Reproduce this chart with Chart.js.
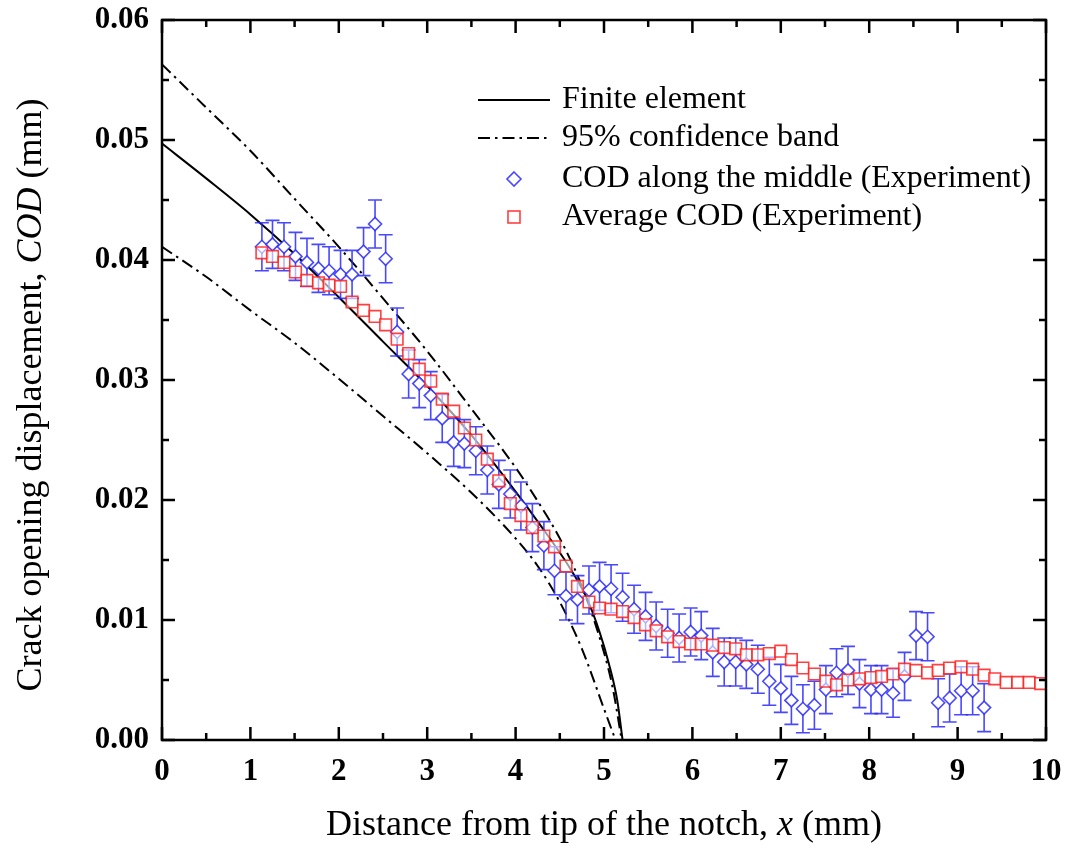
<!DOCTYPE html>
<html>
<head>
<meta charset="utf-8">
<script src="https://cdn.jsdelivr.net/npm/chart.js@4.4.0/dist/chart.umd.min.js"></script>
<style>
  html, body { margin: 0; padding: 0; background: #fff; }
  #wrap { width: 1069px; height: 846px; position: relative; }
</style>
</head>
<body>
<div id="wrap"><canvas id="codChart"></canvas></div>
<script>
// distance from notch tip (mm), one per measured point
const positions = [
  1.13, 1.25, 1.38, 1.51, 1.64, 1.77, 1.89, 2.02, 2.15, 2.28,
  2.41, 2.53, 2.66, 2.79, 2.91, 3.04, 3.17, 3.30, 3.42, 3.55,
  3.68, 3.81, 3.94, 4.06, 4.19, 4.32, 4.44, 4.57, 4.70, 4.83,
  4.95, 5.08, 5.21, 5.34, 5.47, 5.59, 5.72, 5.85, 5.98, 6.10,
  6.23, 6.36, 6.49, 6.61, 6.74, 6.87, 7.00, 7.12, 7.25, 7.38,
  7.51, 7.63, 7.76, 7.89, 8.02, 8.14, 8.27, 8.40, 8.53, 8.66,
  8.78, 8.91, 9.04, 9.17, 9.30, 9.42, 9.55, 9.68, 9.81, 9.94
];
const codMiddle = [
  0.0411, 0.0413, 0.0411, 0.0403, 0.0398, 0.0393, 0.0391, 0.0388, 0.0388, 0.0407,
  0.0430, 0.0401, 0.0340, 0.0305, 0.0297, 0.0287, 0.0268, 0.0248, 0.0247, 0.0241,
  0.0225, 0.0213, 0.0205, 0.0195, 0.0177, 0.0162, 0.0141, 0.0120, 0.0117, 0.0125,
  0.0128, 0.0126, 0.0119, 0.0109, 0.0103, 0.0095, 0.0089, 0.0085, 0.0090, 0.0087,
  0.0073, 0.0065, 0.0065, 0.0063, 0.0059, 0.0049, 0.0043, 0.0033, 0.0026, 0.0029,
  0.0042, 0.0056, 0.0058, 0.0047, 0.0042, 0.0042, 0.0039, 0.0053, 0.0087, 0.0086,
  0.0031, 0.0035, 0.0041, 0.0041, 0.0027
];
const codErr = 0.002;
const codAverage = [
  0.0406, 0.0403, 0.0398, 0.0390, 0.0383, 0.0381, 0.0379, 0.0378, 0.0365, 0.0358,
  0.0353, 0.0346, 0.0334, 0.0322, 0.0309, 0.0299, 0.0284, 0.0274, 0.0260, 0.0250,
  0.0234, 0.0216, 0.0197, 0.0187, 0.0177, 0.0170, 0.0161, 0.0145, 0.0128, 0.0115,
  0.0110, 0.0109, 0.0107, 0.0102, 0.0096, 0.0091, 0.0086, 0.0082, 0.0080, 0.0080,
  0.0079, 0.0077, 0.0076, 0.0071, 0.0071, 0.0072, 0.0074, 0.0067, 0.0060, 0.0055,
  0.0049, 0.0046, 0.0050, 0.0051, 0.0052, 0.0053, 0.0055, 0.0059, 0.0058, 0.0056,
  0.0058, 0.0060, 0.0061, 0.0059, 0.0054, 0.0051, 0.0048, 0.0048, 0.0048, 0.0047
];

// finite element curve and confidence band
const feX = [0, 0.5, 1.0, 1.5, 2.0, 2.5, 3.0, 3.5, 4.0, 4.3, 4.6, 4.8, 4.95, 5.05, 5.15, 5.21];
const feY = [0.0497, 0.0468, 0.0438, 0.0405, 0.0369, 0.0332, 0.0295, 0.0254, 0.0207, 0.0177, 0.0145, 0.0119, 0.0090, 0.0065, 0.0033, 0.0];
const upperX = [0, 0.5, 1.0, 1.5, 2.0, 2.5, 3.0, 3.5, 4.0, 4.25, 4.5, 4.75, 5.0, 5.1, 5.2];
const upperY = [0.0563, 0.0527, 0.0491, 0.0451, 0.0411, 0.0368, 0.0324, 0.0276, 0.0227, 0.0199, 0.0168, 0.0128, 0.0073, 0.0043, 0.0];
const lowerX = [0, 0.5, 1.0, 1.5, 2.0, 2.5, 3.0, 3.5, 4.0, 4.25, 4.5, 4.75, 5.0, 5.13];
const lowerY = [0.0411, 0.0386, 0.0358, 0.0331, 0.0301, 0.0270, 0.0239, 0.0206, 0.0168, 0.0145, 0.0115, 0.0076, 0.0026, 0.0];

const xMin = 0, xMax = 10, xStep = 1;
const yMin = 0, yMax = 0.06, yStep = 0.01;

const SERIF = "'Liberation Serif', 'Times New Roman', serif";
const BLUE = "rgba(40,40,255,0.85)";
const RED = "rgba(255,30,30,0.85)";
const DASHDOT = [12, 5, 2.5, 5];

function pts(xs, ys) {
  return ys.map((y, i) => ({ x: xs[i], y: y }));
}

// draws mixed roman/italic text pieces starting at x
function drawPieces(ctx, pieces, size, x, y) {
  pieces.forEach(p => {
    ctx.font = (p[1] ? "italic " : "") + size + "px " + SERIF;
    ctx.fillText(p[0], x, y);
    x += ctx.measureText(p[0]).width;
  });
}
function piecesWidth(ctx, pieces, size) {
  let w = 0;
  pieces.forEach(p => {
    ctx.font = (p[1] ? "italic " : "") + size + "px " + SERIF;
    w += ctx.measureText(p[0]).width;
  });
  return w;
}

const frameAndExtras = {
  id: "frameAndExtras",
  beforeDatasetDraw(chart, args) {
    if (args.index !== 1) return;
    const ctx = chart.ctx, xs = chart.scales.x, ys = chart.scales.y;
    ctx.save();
    ctx.strokeStyle = BLUE;
    ctx.lineWidth = 1.6;
    codMiddle.forEach((v, i) => {
      const px = xs.getPixelForValue(positions[i]);
      const top = ys.getPixelForValue(v + codErr);
      const bot = ys.getPixelForValue(Math.max(v - codErr, 0));
      ctx.beginPath();
      ctx.moveTo(px, top); ctx.lineTo(px, bot);
      ctx.moveTo(px - 7, top); ctx.lineTo(px + 7, top);
      ctx.moveTo(px - 7, bot); ctx.lineTo(px + 7, bot);
      ctx.stroke();
    });
    ctx.restore();
  },
  afterDraw(chart) {
    const ctx = chart.ctx, a = chart.chartArea;
    const xs = chart.scales.x, ys = chart.scales.y;
    ctx.save();
    ctx.strokeStyle = "#000";
    ctx.lineWidth = 2.5;
    ctx.strokeRect(a.left, a.top, a.right - a.left, a.bottom - a.top);

    // inward ticks on all four sides, major + minor
    ctx.beginPath();
    for (let k = 0; k <= 20; k++) {
      const px = xs.getPixelForValue(k * xStep / 2);
      const len = k % 2 === 0 ? 13 : 7;
      ctx.moveTo(px, a.bottom); ctx.lineTo(px, a.bottom - len);
      ctx.moveTo(px, a.top); ctx.lineTo(px, a.top + len);
    }
    for (let k = 0; k <= 12; k++) {
      const py = ys.getPixelForValue(k * yStep / 2);
      const len = k % 2 === 0 ? 13 : 7;
      ctx.moveTo(a.left, py); ctx.lineTo(a.left + len, py);
      ctx.moveTo(a.right, py); ctx.lineTo(a.right - len, py);
    }
    ctx.stroke();

    // axis titles
    ctx.fillStyle = "#000";
    ctx.textBaseline = "middle";
    ctx.textAlign = "left";
    const xt = [["Distance from tip of the notch, ", false], ["x", true], [" (mm)", false]];
    const xw = piecesWidth(ctx, xt, 36);
    drawPieces(ctx, xt, 36, (a.left + a.right) / 2 - xw / 2, 826);
    const yt = [["Crack opening displacement, ", false], ["COD", true], [" (mm)", false]];
    const yw = piecesWidth(ctx, yt, 36);
    ctx.save();
    ctx.translate(32, (a.top + a.bottom) / 2 + 15);
    ctx.rotate(-Math.PI / 2);
    drawPieces(ctx, yt, 36, -yw / 2, 0);
    ctx.restore();

    // legend
    const lx0 = 478, lx1 = 550, tx = 562;
    const rows = [100, 138, 179, 217];
    ctx.lineWidth = 2;
    ctx.strokeStyle = "#000";
    ctx.beginPath(); ctx.moveTo(lx0, rows[0]); ctx.lineTo(lx1, rows[0]); ctx.stroke();
    ctx.setLineDash(DASHDOT);
    ctx.beginPath(); ctx.moveTo(lx0, rows[1]); ctx.lineTo(lx1, rows[1]); ctx.stroke();
    ctx.setLineDash([]);
    const mx = (lx0 + lx1) / 2;
    ctx.fillStyle = "#fff";
    ctx.strokeStyle = BLUE;
    ctx.lineWidth = 1.6;
    ctx.beginPath();
    ctx.moveTo(mx, rows[2] - 7); ctx.lineTo(mx + 7, rows[2]);
    ctx.lineTo(mx, rows[2] + 7); ctx.lineTo(mx - 7, rows[2]); ctx.closePath();
    ctx.fill(); ctx.stroke();
    ctx.strokeStyle = RED;
    ctx.strokeRect(mx - 6, rows[3] - 6, 12, 12);
    ctx.fillStyle = "#000";
    ctx.font = "32px " + SERIF;
    ["Finite element", "95% confidence band", "COD along the middle (Experiment)", "Average COD (Experiment)"]
      .forEach((t, i) => ctx.fillText(t, tx, rows[i]));
    ctx.restore();
  }
};

new Chart(document.getElementById("codChart"), {
  type: "scatter",
  data: {
    datasets: [
      {
        label: "Average COD (Experiment)",
        data: pts(positions, codAverage),
        pointStyle: "rect",
        pointRadius: 8.2,
        pointBorderWidth: 1.6,
        pointBorderColor: RED,
        pointBackgroundColor: "rgba(255,255,255,0.6)",
        showLine: false
      },
      {
        label: "COD along the middle (Experiment)",
        data: pts(positions, codMiddle),
        pointStyle: "rectRot",
        pointRadius: 6.5,
        pointBorderWidth: 1.6,
        pointBorderColor: BLUE,
        pointBackgroundColor: "#fff",
        showLine: false
      },
      {
        label: "Finite element",
        data: pts(feX, feY),
        showLine: true,
        borderColor: "#000",
        borderWidth: 2,
        pointRadius: 0,
        cubicInterpolationMode: "monotone"
      },
      {
        label: "95% confidence band",
        data: pts(upperX, upperY),
        showLine: true,
        borderColor: "#000",
        borderWidth: 2,
        borderDash: DASHDOT,
        pointRadius: 0,
        cubicInterpolationMode: "monotone"
      },
      {
        label: "95% confidence band (lower)",
        data: pts(lowerX, lowerY),
        showLine: true,
        borderColor: "#000",
        borderWidth: 2,
        borderDash: DASHDOT,
        pointRadius: 0,
        cubicInterpolationMode: "monotone"
      }
    ]
  },
  options: {
    responsive: true,
    maintainAspectRatio: false,
    animation: false,
    events: [],
    layout: { padding: { top: 20, right: 23, left: 0, bottom: 0 } },
    plugins: {
      legend: { display: false },
      tooltip: { enabled: false }
    },
    scales: {
      x: {
        type: "linear",
        min: xMin,
        max: xMax,
        grid: { display: false, drawTicks: false },
        border: { display: false },
        ticks: {
          stepSize: xStep,
          padding: 13,
          color: "#000",
          font: { family: SERIF, size: 31, weight: "bold" }
        },
        afterFit: s => { s.height = 106; s.paddingLeft = 0; s.paddingRight = 0; }
      },
      y: {
        type: "linear",
        min: yMin,
        max: yMax,
        grid: { display: false, drawTicks: false },
        border: { display: false },
        ticks: {
          stepSize: yStep,
          padding: 13,
          color: "#000",
          font: { family: SERIF, size: 31, weight: "bold" },
          callback: v => v.toFixed(2)
        },
        afterFit: s => { s.width = 162; s.paddingTop = 0; s.paddingBottom = 0; }
      }
    }
  },
  plugins: [frameAndExtras]
});
</script>
</body>
</html>
